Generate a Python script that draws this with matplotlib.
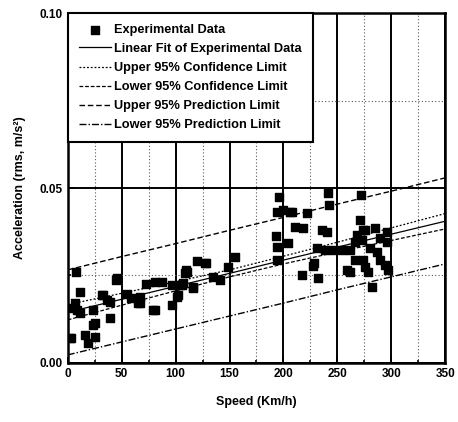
import numpy as np
import matplotlib.pyplot as plt
from matplotlib.ticker import MultipleLocator

# === dane ===
speed = [2, 3.4, 5, 6.5, 8, 9, 11, 11, 16, 19, 23, 23, 25, 25, 31.5, 33, 36, 39, 39, 45,
         46, 55, 59, 65, 67, 67, 73, 79, 81, 81, 87, 97, 97, 101, 102, 104, 106, 107, 109, 110,
         111, 116, 116, 120, 127, 128, 135, 141, 149, 155,
         193, 194, 194, 194, 196, 200, 204, 206, 208, 211, 217, 218, 222, 227, 228, 231, 232, 236, 239, 240,
         241, 242, 246, 254, 259, 262, 262, 266, 266, 268, 271, 272, 273, 274, 274, 276, 276, 278, 280, 282,
         285, 287, 290, 290, 294, 296, 296, 297]
accel = [0.0071, 0.0071, 0.0157, 0.017, 0.026, 0.015, 0.0204, 0.0143, 0.008, 0.0057, 0.0109, 0.015, 0.0074, 0.0114, 0.0194, 0.0194, 0.018, 0.0129, 0.0174, 0.0237,
         0.0243, 0.0197, 0.0185, 0.017, 0.0189, 0.017, 0.0226, 0.0151, 0.0231, 0.0151, 0.0231, 0.0166, 0.0223, 0.0189, 0.0194, 0.0223, 0.0223, 0.0229, 0.0257, 0.0266,
         0.026, 0.0214, 0.0217, 0.0292, 0.0286, 0.0286, 0.0245, 0.0237, 0.0274, 0.0303,
         0.0363, 0.0431, 0.0331, 0.0294, 0.0474, 0.0437, 0.0343, 0.0431, 0.0431, 0.0389, 0.0251, 0.0386, 0.0429, 0.0277, 0.0286, 0.0329, 0.0243, 0.038, 0.0323, 0.0374,
         0.0486, 0.0451, 0.0323, 0.0323, 0.0266, 0.0323, 0.026, 0.0346, 0.0294, 0.0366, 0.0409, 0.048, 0.0351, 0.0294, 0.038, 0.0274, 0.038, 0.026, 0.0329, 0.0217,
         0.0386, 0.0317, 0.0357, 0.0294, 0.028, 0.0374, 0.0346, 0.0266]

line_x = [0, 50, 100, 150, 200, 250, 300, 350]
fit_y = [0.0145, 0.0182, 0.0219, 0.0256, 0.0294, 0.0331, 0.0368, 0.0405]
upper_conf = [0.0167, 0.0199, 0.0232, 0.0266, 0.0305, 0.0345, 0.0386, 0.0427]
lower_conf = [0.0123, 0.0165, 0.0206, 0.0246, 0.0283, 0.0317, 0.0350, 0.0383]
upper_pred = [0.0266, 0.0304, 0.0341, 0.0379, 0.0416, 0.0454, 0.0491, 0.0529]
lower_pred = [0.0023, 0.0060, 0.0097, 0.0134, 0.0171, 0.0209, 0.0246, 0.0283]

plt.rcParams['font.family'] = ['Liberation Sans', 'DejaVu Sans']
plt.rcParams['font.weight'] = 'bold'

fig = plt.figure(figsize=(4.58, 4.22), dpi=100)
ax = fig.add_axes([0.148, 0.140, 0.824, 0.829])

# === siatka ===
ax.xaxis.set_major_locator(MultipleLocator(50))
ax.xaxis.set_minor_locator(MultipleLocator(25))
ax.yaxis.set_major_locator(MultipleLocator(0.05))
ax.yaxis.set_minor_locator(MultipleLocator(0.025))
ax.grid(which='major', color='black', linewidth=1.4)
ax.grid(which='minor', color='0.35', linewidth=0.8, linestyle=(0, (1, 2)))
ax.set_axisbelow(True)

# === dane i linie ===
ax.scatter(speed, accel, marker='s', s=26, color='black', zorder=3, label='Experimental Data')
ax.plot(line_x, fit_y, color='black', lw=0.9, label='Linear Fit of Experimental Data')
ax.plot(line_x, upper_conf, color='black', lw=0.9, ls=(0, (1.5, 1.5)), label='Upper 95% Confidence Limit')
ax.plot(line_x, lower_conf, color='black', lw=0.9, ls=(0, (3, 1.5)), label='Lower 95% Confidence Limit')
ax.plot(line_x, upper_pred, color='black', lw=1.0, ls=(0, (4, 2)), label='Upper 95% Prediction Limit')
ax.plot(line_x, lower_pred, color='black', lw=1.0, ls=(0, (5, 1.5, 1, 1.5)), label='Lower 95% Prediction Limit')

ax.set_xlim(0, 350)
ax.set_ylim(0, 0.10)
ax.set_yticks([0.00, 0.05, 0.10])
ax.set_yticklabels(['0.00', '0.05', '0.10'])
ax.tick_params(which='both', direction='in', labelsize=8.5, width=1.2)
ax.tick_params(which='major', length=4)
ax.tick_params(which='minor', length=2.5)
for s in ax.spines.values():
    s.set_linewidth(1.8)

ax.set_xlabel('Speed (Km/h)', fontsize=9, fontweight='bold', labelpad=12)
ax.set_ylabel('Acceleration (rms, m/s²)', fontsize=9, fontweight='bold', labelpad=10)

leg = ax.legend(loc='upper left', bbox_to_anchor=(0, 1), borderaxespad=0, fontsize=9.2,
                fancybox=False, framealpha=1, edgecolor='black', labelspacing=0.55,
                handlelength=2.5, handletextpad=0.3, borderpad=0.85)
leg.get_frame().set_linewidth(1.5)

plt.savefig('out.png', dpi=100)
plt.close()
